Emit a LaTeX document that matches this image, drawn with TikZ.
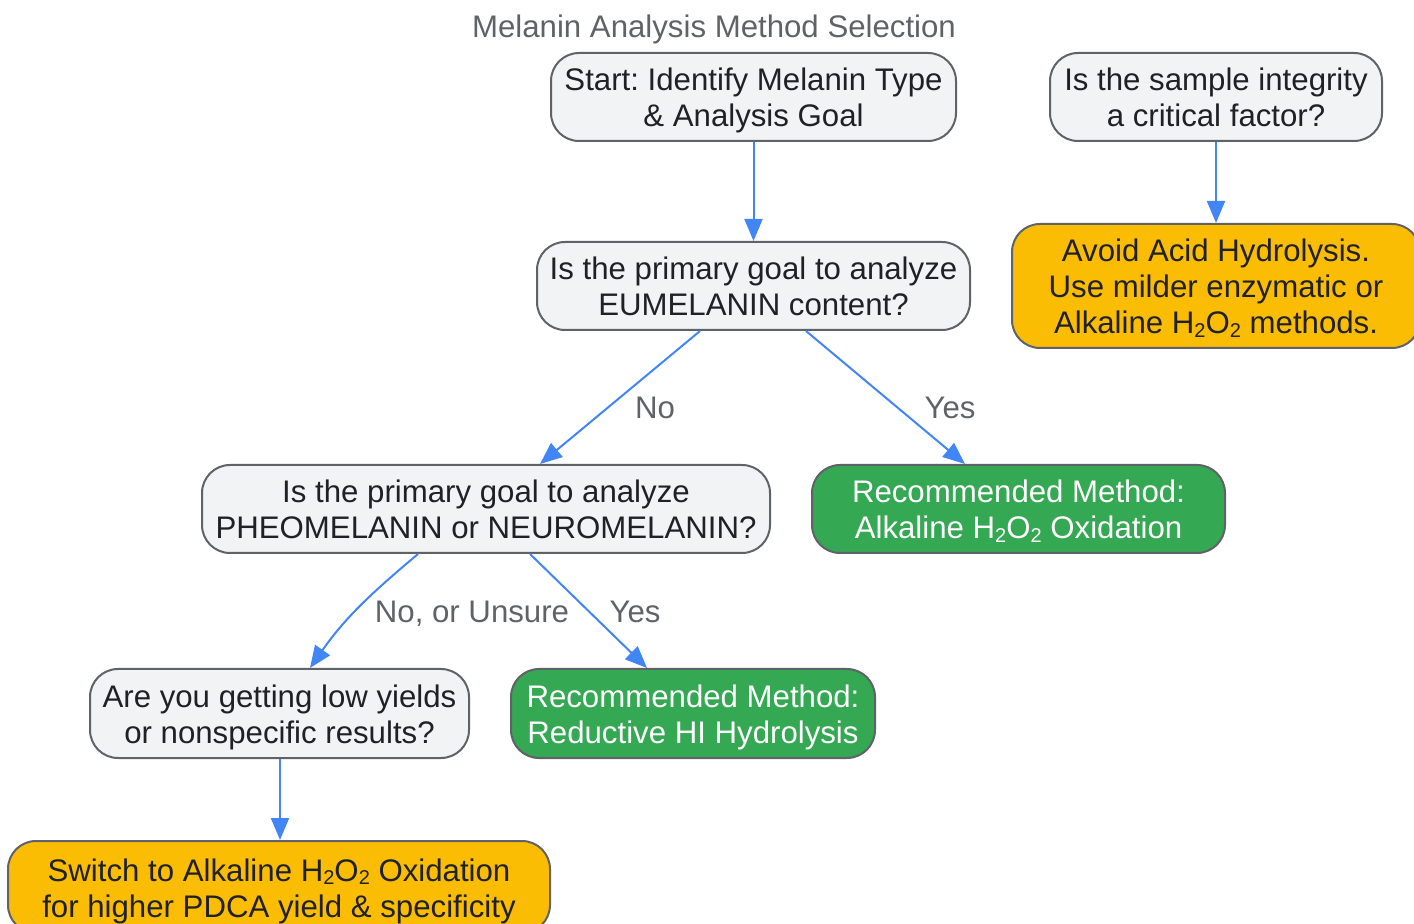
\documentclass[tikz,border=0pt]{standalone}
\usepackage{fontspec}
\setmainfont{Liberation Sans}
\frenchspacing
\usetikzlibrary{arrows.meta,calc}
\definecolor{boxfill}{HTML}{F1F3F4}
\definecolor{boxline}{HTML}{5F6368}
\definecolor{txt}{HTML}{202124}
\definecolor{lbl}{HTML}{5F6368}
\definecolor{orangefill}{HTML}{FBBC04}
\definecolor{greenfill}{HTML}{34A853}
\definecolor{arrowblue}{HTML}{4285F4}
\newcommand\subtwo{\raisebox{-0.2ex}{\fontsize{10}{10}\selectfont 2}}
\newcommand\ts{\rule{0pt}{16pt}}
\newcommand\bs{\rule[-4pt]{0pt}{4pt}}
\tikzset{
  base/.style={draw=boxline, line width=1pt, rounded corners=14pt, align=center,
    inner sep=0pt, font=\fontsize{15.6}{18}\selectfont},
  qbox/.style={base, fill=boxfill, text=txt},
  obox/.style={base, fill=orangefill, text=txt},
  gbox/.style={base, fill=greenfill, text=white},
  conn/.style={draw=arrowblue, line width=1pt, -{Triangle[length=11pt,width=9pt]}},
  elabel/.style={text=lbl, font=\fontsize{15.6}{18}\selectfont, inner sep=0pt, anchor=base},
}
\begin{document}
\begin{tikzpicture}[x=0.5pt,y=-0.5pt]
\useasboundingbox (0,0) rectangle (1414,924);
\clip (0,0) rectangle (1414,924);
\node[elabel] (title) at (714,38) {Melanin Analysis Method Selection};
\node[qbox, minimum width=202.5pt, minimum height=44pt] (start) at (753.5,97)
  {\ts Start: Identify Melanin Type\\\& Analysis Goal\bs};
\node[qbox, minimum width=166pt, minimum height=44pt] (sample) at (1216,97)
  {\ts Is the sample integrity\\a critical factor?\bs};
\node[obox, minimum width=204pt, minimum height=62pt] (avoid) at (1216,286)
  {\ts Avoid Acid Hydrolysis.\\Use milder enzymatic or\\Alkaline H\subtwo O\subtwo\ methods.\bs};
\node[qbox, minimum width=216.5pt, minimum height=44pt] (eum) at (753.5,286)
  {\ts Is the primary goal to analyze\\EUMELANIN content?\bs};
\node[qbox, minimum width=284pt, minimum height=44pt] (pheo) at (486,509)
  {\ts Is the primary goal to analyze\\PHEOMELANIN or NEUROMELANIN?\bs};
\node[gbox, minimum width=206.5pt, minimum height=44pt] (alk) at (1018.5,509)
  {\ts Recommended Method:\\Alkaline H\subtwo O\subtwo\ Oxidation\bs};
\node[qbox, minimum width=189.5pt, minimum height=44.5pt] (low) at (279.5,713.5)
  {\ts Are you getting low yields\\or nonspecific results?\bs};
\node[gbox, minimum width=182pt, minimum height=44.5pt] (red) at (693,713.5)
  {\ts Recommended Method:\\Reductive HI Hydrolysis\bs};
\node[obox, minimum width=271pt, minimum height=46pt] (switch) at (279,887)
  {\ts Switch to Alkaline H\subtwo O\subtwo\ Oxidation\\for higher PDCA yield \& specificity\bs};

\draw[conn] (start.south) -- (eum.north);
\draw[conn] (sample.south) -- (avoid.north);
\draw[conn] ($(eum.south)+(-53.5,0)$) -- ($(pheo.north)+(54,0)$);
\draw[conn] ($(eum.south)+(52.5,0)$) -- ($(alk.north)+(-53.5,0)$);
\draw[conn] ($(pheo.south)+(-68,0)$) to[out=220,in=55] ($(low.north)+(30.5,0)$);
\draw[conn] ($(pheo.south)+(44,0)$) -- ($(red.north)+(-46,0)$);
\draw[conn] ($(low.south)+(0.5,0)$) -- ($(switch.north)+(1,0)$);

\node[elabel] (lno1) at (655,419) {No};
\node[elabel] (lyes1) at (950,419) {Yes};
\node[elabel] (lno2) at (472,623) {No, or Unsure};
\node[elabel] (lyes2) at (635,623) {Yes};
\end{tikzpicture}
\end{document}
